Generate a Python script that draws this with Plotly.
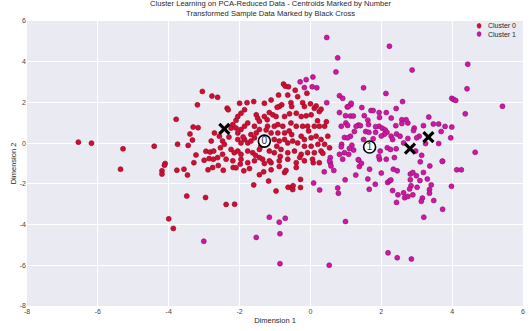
import plotly.graph_objects as go

# ---------------- data ----------------
cluster0_x = [-6.55, -6.18, -5.29, -4.41, -4.10, -3.79, -3.05, -2.78, -3.19, -3.31, -3.17, -3.33, -3.75, -3.45,
              -3.23, -2.95, -2.83, -2.73, -3.00, -2.86, -2.74, -3.29,
              -5.36, -4.12, -4.19, -4.19, -3.77, -3.57, -3.47, -2.89, -2.76, -3.49, -2.96, -4.00, -3.87,
              -2.46, -2.18, -2.10, -1.88, -1.72, -1.44, -1.32, -1.60, -1.18, -0.97, -0.73, -0.69, -0.63,
              -0.53, -0.50, -0.49, -0.28, -0.28, -2.38, -2.14, 0.08,
              -2.62, -2.35, -2.32, -0.76, -0.71, -0.62, -0.43, -0.90, -0.64, -0.36, -1.30, -1.11, -2.00,
              -1.79, -1.60, -0.81, -0.88, -0.94, -0.55, -0.53, -0.22, -0.17, 0.00, 0.11, 0.16, 0.25, 0.30,
              -1.86, -1.96, -2.05, -2.10, -1.53, -1.49, -1.44, -1.16, -1.06, -0.97, -1.30, -1.22, -0.73,
              -0.59, -0.40, -0.26, -0.12, 0.02, -1.77, -1.86, -1.96, -2.05, -2.19, -2.24, -2.10, -1.58,
              -1.44, -1.53, -1.68, -1.21, -1.02, -0.92, -0.78, -0.55, -0.40, -0.22, -0.08, 0.11, 0.25,
              0.40, -1.11, -0.92, -0.73, -0.53, -0.26, -0.17, 0.02, 0.16, 0.30, 0.49, -2.71, -2.57, -2.48,
              -2.43, -2.54, -2.05, -1.96, -1.86, -1.77, -1.68, -1.58, -1.02, -0.88, -0.73, -0.64, -0.50,
              -0.36, -0.17, 0.02, 0.21, 0.40, 0.54, -2.24, -2.15, -2.05, -1.96, -1.77, -1.63, -1.44, -1.16,
              -1.02, -0.83, -0.64, -0.45, -0.26, -0.08, 0.11, 0.30,
              -2.62, -2.48, -2.38, -2.19, -1.96, -1.77, -1.58, -1.35, -1.11, -0.88, -0.64, -0.40, -0.17,
              0.06, 0.25, -1.98, -1.44, -1.30, -1.16, -0.88, -0.40, -1.11, -0.05, -2.30, -1.40, -0.95,
              -0.30, 0.35, -2.80, -1.25, -0.60, 0.20, -1.90, -2.60, -0.10, -1.55, -0.85, 0.45, -3.40]
cluster0_y = [0.05, 0.00, -0.28, -0.15, -1.00, 1.17, 2.54, 2.31, 1.88, 0.79, 0.76, 0.15, -0.05, -0.11,
              -0.58, -0.40, -0.44, -0.39, -0.84, -0.76, -0.79, -0.96,
              -1.28, -1.08, -1.36, -1.52, -1.33, -1.28, -1.57, -1.31, -1.20, -2.60, -2.67, -3.72, -4.19,
              -1.33, -1.20, -1.21, -1.36, -1.25, -1.55, -1.41, -2.05, -1.86, -2.35, -1.44, -1.34, -2.17,
              -2.18, -2.28, -2.09, -1.78, -2.18, -3.01, -3.00, -0.96,
              2.25, 1.72, 1.64, 2.90, 2.80, 2.77, 2.60, 2.36, 2.36, 2.28, 1.96, 2.12, 1.96,
              1.99, 2.04, 1.88, 1.80, 1.76, 1.99, 1.80, 1.99, 1.80, 1.93, 1.71, 1.83, 1.55, 1.67,
              1.64, 1.47, 1.31, 1.12, 1.39, 1.23, 1.07, 1.50, 1.39, 1.31, 1.31, 1.15, 1.31,
              1.44, 1.47, 1.31, 1.34, 1.39, 0.99, 0.83, 0.67, 0.50, 0.91, 0.74, 0.74, 0.83,
              0.67, 0.50, 0.42, 0.83, 0.83, 0.91, 0.83, 0.99, 0.83, 0.83, 0.83, 0.83, 0.83,
              0.83, 0.50, 0.50, 0.50, 0.42, 0.34, 0.18, 0.26, 0.34, 0.18, 0.34, 0.50, 0.34, 0.10,
              -0.06, -0.23, 0.18, 0.01, 0.18, 0.01, 0.10, 0.26, 0.18, 0.10, 0.18, 0.01, 0.10,
              0.01, -0.15, -0.15, -0.06, -0.06, -0.23, -0.31, -0.47, -0.39, -0.55, -0.39, -0.47, -0.31, -0.39,
              -0.47, -0.31, -0.47, -0.39, -0.55, -0.47, -0.47, -0.39,
              -0.71, -0.55, -0.79, -0.87, -0.79, -0.96, -0.87, -0.79, -0.96, -0.87, -0.79, -0.96, -0.87,
              -0.79, -0.96, -1.03, -0.71, -1.00, -0.87, -1.15, -1.20, -1.31, 0.60, 0.30, -0.15, -0.15,
              -0.70, -0.50, 0.10, 0.65, 0.60, 1.10, 0.30, -1.10, 2.45, -0.60, -0.65, 1.05, 0.45]

cluster1_x = [-3.01, -1.16, -0.71, -0.88, -0.86, -1.53, -0.86, 0.53, 0.09, 0.26, 0.39, 0.56, 0.58, 0.66,
              0.77, 0.79, 0.98, 0.99, 0.91,
              1.36, 1.38, 1.28, 1.67, 1.62, 1.66, 1.83, 1.95, 2.00, 2.18, 2.23, 2.27, 2.32, 2.34, 2.45,
              2.47, 2.43, 2.63, 2.66, 2.75, 2.82, 2.89, 2.82, 2.99, 2.84, 2.80, 2.89, 3.01, 3.09, 3.19,
              3.30, 3.10, 3.37, 3.41, 3.36, 3.36, 3.16, 3.13, 3.48, 3.73, 3.73, 3.20, 3.98, 4.13, 4.26,
              2.19, 2.45, 2.85,
              2.23, 2.87, 4.44, 4.42, 1.50, 2.13, 2.60, 3.99, 4.04, 4.10, 5.42, 4.37, 4.65, 3.72, 3.96,
              3.99, 3.80, 3.62, 3.47, 3.69, 3.34, 3.19, 3.62, 3.14, 2.97, 3.25, 3.07, 3.00, 2.93, 2.91,
              2.75, 2.70, 2.58, 2.58, 2.41, 2.43, 2.42, 2.28, 2.14, 1.94, 1.71, 1.77, 1.45, 1.14, 1.04,
              0.99, 1.13, 1.21, 1.52, 1.62, 1.64, 1.36, 1.29, 1.41, 1.95, 1.94, 2.03, 2.11, 2.16, 2.09,
              2.00, 1.84, 1.84, 1.56, 1.65, 1.77, 1.50, 1.24, 1.13, 0.96, 1.05, 1.22, 1.17, 1.10,
              0.96, 1.08, 1.35, 1.44, 1.93, 2.17, 2.26, 1.97, 2.42, 2.37, 2.14, 2.63, 2.75, 2.53, 1.00,
              1.05, 2.28, 2.32,
              0.46, 0.77, 0.72, -0.29, -0.12, 0.07, -0.17, 0.05, 0.18, 0.46, 0.82, 0.91, 1.07, 1.15,
              0.82, 0.87, 0.88, 0.87, 0.82, 0.56, 0.54]
cluster1_y = [-4.82, -3.64, -3.69, -3.88, -4.45, -4.63, -5.92, -6.00, -1.96, -2.30, -1.41, -0.96, -1.12, -1.34,
              -2.20, -2.46, -1.80, -3.85, -0.79,
              -0.83, -1.15, -1.57, -1.28, -1.76, -2.27, -2.02, -0.79, -1.47, -1.93, -1.86, -1.81, -2.33, -1.28, -1.36,
              -2.54, -2.91, -2.44, -2.68, -2.62, -1.52, -1.44, -1.80, -1.60, -2.09, -2.25, -2.54, -2.17, -1.84, -1.44,
              -1.76, -0.92, -1.12, -2.05, -2.28, -2.46, -2.70, -2.86, -2.82, -0.89, -3.25, -3.64, -2.12, -1.31, -1.31,
              -5.39, -5.63, -5.69,
              4.76, 3.59, 3.88, 2.67, 2.72, 2.44, 2.04, 2.20, 2.15, 2.10, 1.81, 1.44, -0.45, -0.89, 0.26,
              0.79, 0.82, 0.94, 0.94, 0.57, 1.28, 0.86, -0.02, -0.60, -0.39, -0.02, 0.34, 0.26, 0.74, 0.62,
              0.99, 1.15, 1.15, 0.96, 0.86, 0.45, 1.70, 1.23, 1.50, 1.50, 1.60, 1.60, 1.75, 1.89, 1.78,
              1.35, 1.33, 1.33, 1.35, 1.13, 0.91, 0.89, 0.83, 0.86, 1.26, 0.83, 0.73, 0.65, 0.53, 0.44,
              0.35, 0.81, 0.53, 0.57, 0.53, 0.21, 0.18, 0.57, 0.34, 0.28, 0.26, -0.34, -0.10, -0.26,
              -0.47, -0.55, -0.81, -0.99, -0.65, -0.23, -0.31, -0.39, -0.28, -0.71, -0.79, 0.01, 0.23, 0.34, 0.99,
              0.87, 0.34, 0.18,
              5.19, 4.19, 3.50, 3.01, 3.12, 3.25, 2.73, 2.77, 2.72, 1.99, 2.33, 2.20, 1.80, 1.96,
              1.50, 0.83, -0.06, -0.18, -0.55, -0.71, -0.87]

centroid_x = [-1.30, 1.67]
centroid_y = [0.10, -0.19]
centroid_labels = ["0", "1"]

sample_x = [-2.43, 2.81, 3.33]
sample_y = [0.70, -0.27, 0.29]

axis_ticks = [-8, -6, -4, -2, 0, 2, 4, 6]

legend_names = ["Cluster 0", "Cluster 1"]

# ---------------- figure ----------------
FONT = "Liberation Sans, Arial, sans-serif"
C0_FILL, C0_EDGE = "rgb(208,14,50)", "rgb(150,10,40)"
C1_FILL, C1_EDGE = "rgb(208,22,162)", "rgb(140,20,110)"

fig = go.Figure()

fig.add_trace(go.Scatter(
    x=cluster0_x, y=cluster0_y, mode="markers", name=legend_names[0],
    marker=dict(size=5, color=C0_FILL, line=dict(width=0.6, color=C0_EDGE))))
fig.add_trace(go.Scatter(
    x=cluster1_x, y=cluster1_y, mode="markers", name=legend_names[1],
    marker=dict(size=5, color=C1_FILL, line=dict(width=0.6, color=C1_EDGE))))

fig.add_trace(go.Scatter(
    x=centroid_x, y=centroid_y, mode="markers+text", showlegend=False,
    text=centroid_labels, textposition="middle center",
    textfont=dict(size=10, color="rgb(30,40,80)", family=FONT),
    marker=dict(size=12, color="white", line=dict(width=1.6, color="black"))))

fig.add_trace(go.Scatter(
    x=sample_x, y=sample_y, mode="markers", showlegend=False,
    marker=dict(symbol="x-thin", size=10, line=dict(width=3.2, color="black"))))

# compact legend (top-right, inside the plot) drawn as marker shapes + labels
leg_colors = [(C0_FILL, C0_EDGE), (C1_FILL, C1_EDGE)]
for i, name in enumerate(legend_names):
    ycen = 1 - (0.017 + i * 0.029)
    fig.add_shape(type="circle", xref="paper", yref="paper",
                  x0=0.9075, x1=0.9155, y0=ycen - 0.0085, y1=ycen + 0.0085,
                  fillcolor=leg_colors[i][0], line=dict(width=0.6, color=leg_colors[i][1]))
    fig.add_annotation(text=name, xref="paper", yref="paper", x=0.926, y=ycen,
                       xanchor="left", yanchor="middle", showarrow=False,
                       font=dict(size=7, color="rgb(40,40,40)", family=FONT))

# title as two-line annotation just above the plot area
fig.add_annotation(
    text="Cluster Learning on PCA-Reduced Data - Centroids Marked by Number<br>Transformed Sample Data Marked by Black Cross",
    xref="paper", yref="paper", x=0.49, y=1, xanchor="center", yanchor="bottom", yshift=1,
    showarrow=False, font=dict(size=7.6, color="rgb(40,40,40)", family=FONT))

axis_common = dict(
    range=[-8, 6], tickvals=axis_ticks, ticktext=[str(t) for t in axis_ticks],
    showgrid=True, gridcolor="white", gridwidth=1, zeroline=False, showline=False,
    ticks="", tickfont=dict(size=7, color="rgb(70,70,70)", family=FONT),
)

fig.update_layout(
    width=532, height=331,
    margin=dict(l=27, r=7, t=21, b=25),
    paper_bgcolor="white", plot_bgcolor="#EAEAF2",
    font=dict(family=FONT, color="rgb(50,50,50)"),
    xaxis=dict(axis_common, title=dict(text="Dimension 1", font=dict(size=7.5, color="rgb(40,40,40)"), standoff=3)),
    yaxis=dict(axis_common, title=dict(text="Dimension 2", font=dict(size=7.5, color="rgb(40,40,40)"), standoff=2)),
    showlegend=False,
)

fig.write_html("out.html")
